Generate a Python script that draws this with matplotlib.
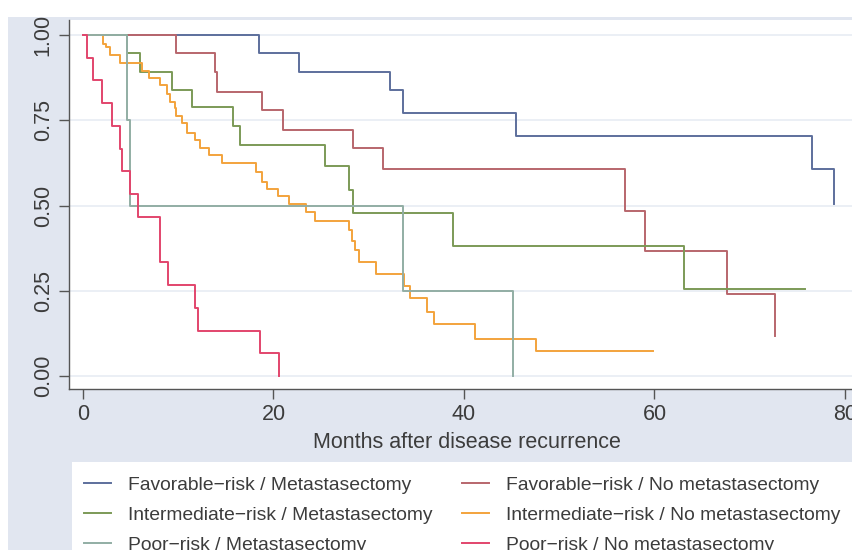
"""Kaplan-Meier curves by risk group and metastasectomy status."""

import matplotlib

matplotlib.use("Agg")
import matplotlib.pyplot as plt
from matplotlib.patches import Rectangle

# Each curve: months at which survival drops, survival after the drop, last follow-up month
fav_meta_t = [18.5, 22.7, 32.2, 33.6, 45.5, 76.5, 78.9]
fav_meta_s = [0.946, 0.892, 0.839, 0.772, 0.705, 0.607, 0.504]
fav_meta_end = 78.9

fav_nometa_t = [9.8, 13.9, 14.1, 18.8, 21.0, 28.4, 31.5, 56.9, 59.0, 67.6, 72.7]
fav_nometa_s = [0.946, 0.892, 0.834, 0.780, 0.721, 0.668, 0.606, 0.485, 0.367, 0.240, 0.117]
fav_nometa_end = 72.7

int_meta_t = [4.6, 6.0, 9.3, 11.4, 15.8, 16.5, 25.4, 27.9, 28.4, 38.9, 63.1]
int_meta_s = [0.946, 0.892, 0.840, 0.790, 0.733, 0.677, 0.616, 0.545, 0.479, 0.381, 0.254]
int_meta_end = 75.8

int_nometa_t = [2.1, 2.4, 2.8, 3.9, 6.2, 6.9, 8.1, 8.8, 9.1, 9.7, 9.8, 10.4, 10.9, 11.8,
                12.3, 13.2, 14.6, 18.2, 18.8, 19.3, 20.5, 21.6, 23.4, 24.4, 27.9, 28.2,
                28.6, 29.0, 30.8, 33.7, 34.3, 36.1, 36.9, 41.2, 47.6]
int_nometa_s = [0.975, 0.965, 0.941, 0.917, 0.893, 0.873, 0.853, 0.826, 0.805, 0.785, 0.762,
                0.741, 0.714, 0.692, 0.668, 0.648, 0.624, 0.599, 0.570, 0.548, 0.527, 0.504,
                0.480, 0.456, 0.428, 0.397, 0.370, 0.333, 0.299, 0.264, 0.228, 0.189, 0.152,
                0.108, 0.074]
int_nometa_end = 59.8

poor_meta_t = [4.6, 4.9, 33.6, 45.1]
poor_meta_s = [0.75, 0.50, 0.25, 0.0]
poor_meta_end = 45.1

poor_nometa_t = [0.4, 1.1, 2.0, 3.0, 3.9, 4.1, 4.9, 5.8, 8.1, 8.9, 11.8, 12.1, 18.6, 20.6]
poor_nometa_s = [0.933, 0.867, 0.800, 0.733, 0.667, 0.600, 0.533, 0.467, 0.333, 0.267,
                 0.200, 0.133, 0.067, 0.0]
poor_nometa_end = 20.6

labels = [
    "Favorable\u2212risk / Metastasectomy",
    "Favorable\u2212risk / No metastasectomy",
    "Intermediate\u2212risk / Metastasectomy",
    "Intermediate\u2212risk / No metastasectomy",
    "Poor\u2212risk / Metastasectomy",
    "Poor\u2212risk / No metastasectomy",
]
colors = ["#5d6f9c", "#b8666d", "#7c9a57", "#f3a33c", "#92aea4", "#e2456c"]

x_ticks = [0, 20, 40, 60, 80]
y_ticks = [0.0, 0.25, 0.50, 0.75, 1.00]
y_ticklabels = ["0.00", "0.25", "0.50", "0.75", "1.00"]

BG = "#e1e6f0"
TXT = "#3c3c3c"

plt.rcParams["font.family"] = ["Liberation Sans", "DejaVu Sans"]

fig = plt.figure(figsize=(8.53, 5.5), dpi=100)
fig.patches.append(Rectangle((8 / 853, 0), 1, 533 / 550, transform=fig.transFigure,
                             facecolor=BG, edgecolor="none", zorder=-10))
fig.patches.append(Rectangle((72 / 853, 0), 1, 88 / 550, transform=fig.transFigure,
                             facecolor="white", edgecolor="none", zorder=-5))

ax = fig.add_axes([69 / 853, 161 / 550, 795 / 853, 369 / 550])

curves = [
    (fav_meta_t, fav_meta_s, fav_meta_end),
    (fav_nometa_t, fav_nometa_s, fav_nometa_end),
    (int_meta_t, int_meta_s, int_meta_end),
    (int_nometa_t, int_nometa_s, int_nometa_end),
    (poor_meta_t, poor_meta_s, poor_meta_end),
    (poor_nometa_t, poor_nometa_s, poor_nometa_end),
]
handles = []
for (t, s, end), label, color in zip(curves, labels, colors):
    xs = [0] + t + [end]
    ys = [1.0] + s + [s[-1]]
    (line,) = ax.step(xs, ys, where="post", color=color, linewidth=1.4, label=label)
    handles.append(line)

ax.set_xlim(-1.47, 82.0)
ax.set_ylim(-0.038, 1.044)
ax.set_xticks(x_ticks)
ax.set_yticks(y_ticks)
ax.set_yticklabels(y_ticklabels, rotation=90, va="center")
ax.grid(axis="y", color="#e8ecf3", linewidth=1.2)
ax.set_axisbelow(True)
for side in ["top", "right"]:
    ax.spines[side].set_visible(False)
for side in ["left", "bottom"]:
    ax.spines[side].set_color("#555555")
    ax.spines[side].set_linewidth(1.0)
ax.tick_params(axis="both", length=7, width=1, color="#555555", labelcolor=TXT,
               labelsize=15.5, pad=4)
ax.set_xlabel("Months after disease recurrence", fontsize=15.5, color=TXT, labelpad=5)

order = [0, 2, 4, 1, 3, 5]
fig.legend([handles[i] for i in order], [labels[i] for i in order],
           loc="upper left", bbox_to_anchor=(84 / 853, 1 - 476 / 550), ncol=2,
           frameon=False, fontsize=13.9, handlelength=1.4, handletextpad=0.9,
           columnspacing=1.5, labelspacing=0.66, borderpad=0, borderaxespad=0,
           labelcolor=TXT)

fig.savefig("out.png", dpi=100)
plt.close(fig)
